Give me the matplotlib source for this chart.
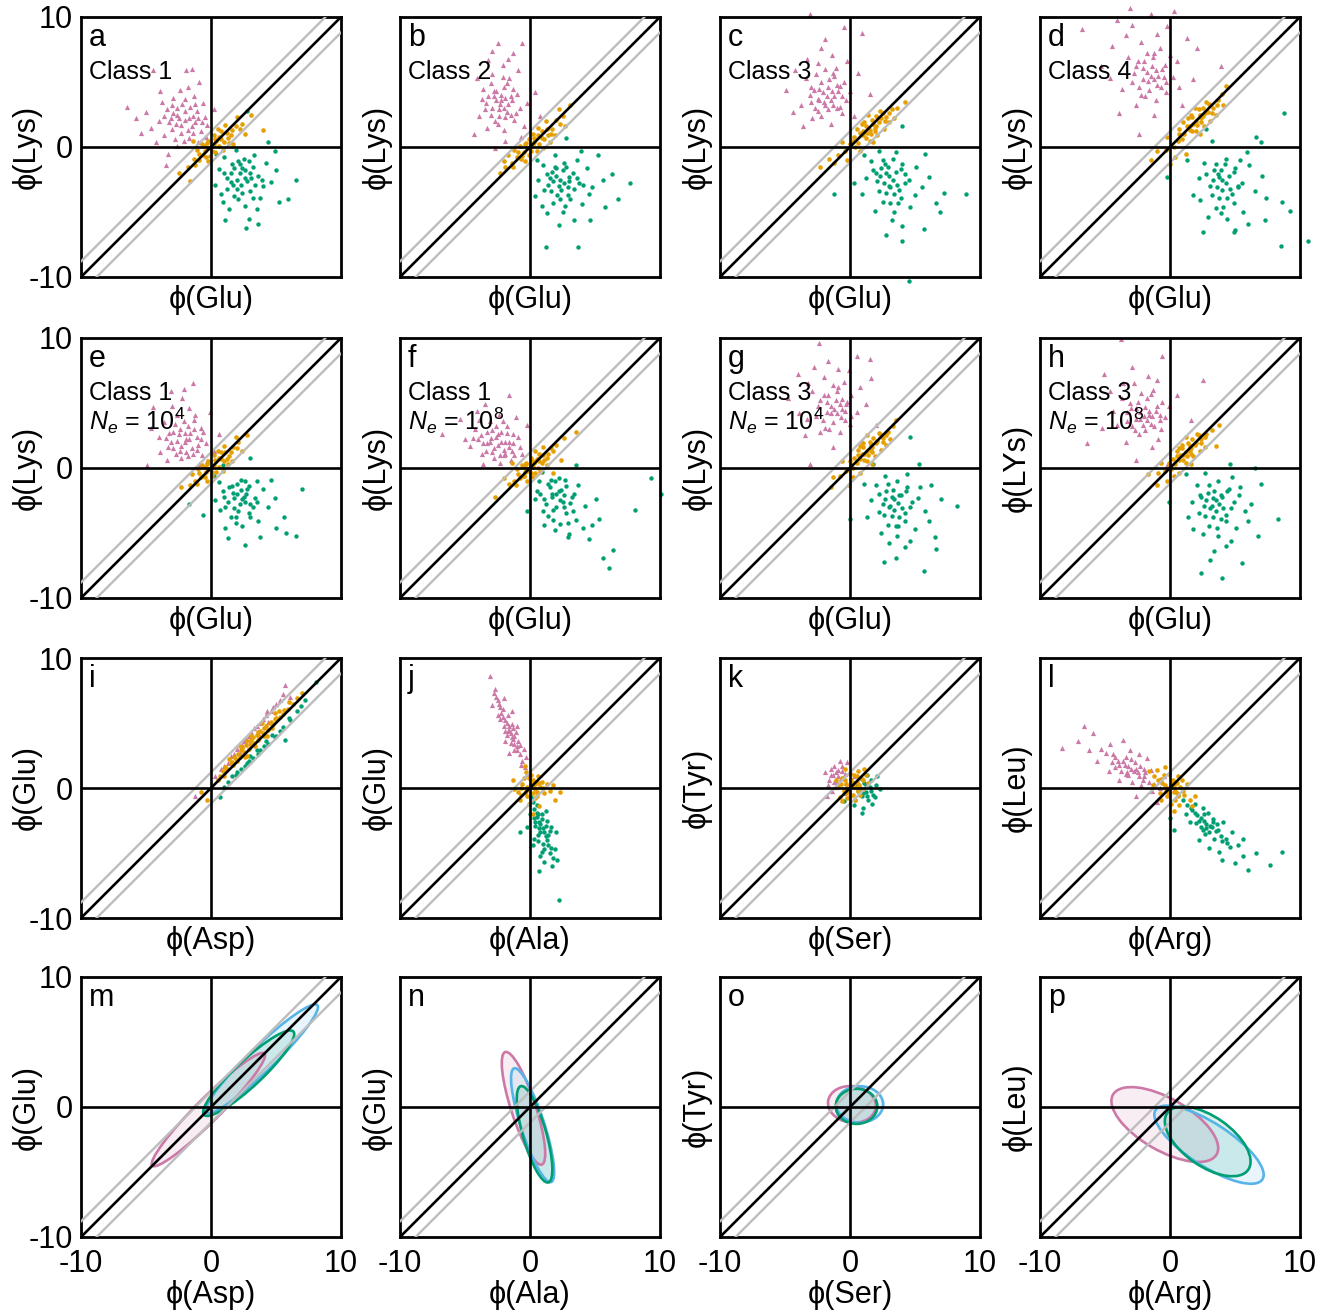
import matplotlib
matplotlib.use("Agg")
import matplotlib.pyplot as plt
from matplotlib.patches import Ellipse

plt.rcParams["font.family"] = ["Liberation Sans", "DejaVu Sans"]
plt.rcParams["mathtext.fontset"] = "custom"
plt.rcParams["mathtext.rm"] = "Liberation Sans"
plt.rcParams["mathtext.it"] = "Liberation Sans:italic"

PINK = "#CC79A7"
GREEN = "#009E73"
ORANGE = "#E69F00"
BLUE = "#56B4E9"

LETTERS = list("abcdefghijklmnop")
XLABELS = ["ϕ(Glu)"] * 8 + ["ϕ(Asp)", "ϕ(Ala)", "ϕ(Ser)", "ϕ(Arg)"] * 2
YLABELS = ["ϕ(Lys)"] * 7 + ["ϕ(LYs)"] + ["ϕ(Glu)", "ϕ(Glu)", "ϕ(Tyr)", "ϕ(Leu)"] * 2
CLASSES = ["Class 1", "Class 2", "Class 3", "Class 4",
           "Class 1", "Class 1", "Class 3", "Class 3"]
NE_LABELS = ["", "", "", "",
             "$N_e$ = 10$^4$", "$N_e$ = 10$^8$", "$N_e$ = 10$^4$", "$N_e$ = 10$^8$"]
TICKS = [-10, 0, 10]
TICK_LABELS = ["-10", "0", "10"]
DIAG_OFFSET = 1.2   # the grey guide lines either side of y = x

# ---- panel a ----
PINK_A = [(-2.0,2.1),(-1.5,1.6),(-2.6,2.5),(-1.1,2.8),(-3.0,1.4),(-2.2,3.3),(-0.8,1.2),(-1.7,0.7),
          (-3.4,2.9),(-2.8,0.6),(-1.3,3.9),(-0.5,2.3),(-4.0,2.0),(-2.4,4.4),(-3.6,0.9),(-1.0,0.4),
          (-4.6,1.5),(-1.9,5.9),(-4.5,5.9),(-6.5,3.1),(-5.0,2.7),(-3.5,-1.4),(-0.6,3.4),(-2.9,3.8),
          (-1.4,2.4),(-2.3,1.1),(-3.8,3.5),(-0.3,1.7),(-1.8,4.6),(-5.4,1.1),(-3.1,2.2),(-2.6,0.1),
          (-0.9,5.0),(-4.2,0.4),(-1.2,1.9),(-2.0,2.8),(-3.3,-0.5),(0.2,2.9),(-5.8,2.2),(-1.6,3.1),
          (-2.7,1.8),(-0.4,0.8),(-3.9,4.3),(-1.5,6.0),
          (-2.3,1.7),(-1.7,2.2),(-2.6,3.0),(-1.4,1.1),(-3.2,1.9),(-2.0,3.7),(-1.0,2.2),(-2.9,2.6),
          (-1.8,1.3),(-2.5,2.2),(-3.6,2.4),(-1.2,3.3),(-0.7,1.9),(-2.1,0.5),(-3.0,3.2)]
GREEN_A = [(2.2,-2.0),(1.6,-1.3),(2.8,-2.6),(1.2,-2.4),(3.2,-1.5),(2.0,-3.2),(1.0,-0.8),(3.6,-2.2),
           (2.5,-0.9),(1.8,-3.8),(3.0,-3.4),(0.6,-1.7),(4.2,-1.2),(2.6,-4.5),(1.4,-4.8),(3.8,-3.9),
           (4.6,-2.7),(0.3,-2.9),(2.9,-5.5),(2.7,-6.2),(3.6,-5.9),(5.2,-4.2),(6.5,-2.5),(5.9,-4.0),
           (4.9,-0.3),(2.8,2.8),(1.9,-0.2),(0.8,-3.6),(3.3,-0.6),(4.0,-3.0),(2.3,-2.9),(1.5,-2.0),
           (3.5,-4.8),(0.4,-0.5),(5.0,-1.8),(1.1,-5.6),(2.1,-1.1),(4.4,0.4),(3.1,-2.4),(0.9,-4.2),
           (1.7,-2.9),(2.4,-1.6),
           (2.0,-2.5),(2.6,-1.8),(1.8,-1.6),(3.0,-2.0),(2.4,-3.5),(1.5,-2.7),(3.4,-2.9),(2.2,-1.3),
           (1.2,-3.2),(2.9,-1.1),(3.9,-2.5),(2.1,-4.0),(1.0,-2.0),(3.2,-3.9),(2.6,-2.4)]
ORANGE_A = [(0.0,0.0),(0.4,0.5),(-0.5,-0.3),(0.8,0.6),(-0.9,-1.0),(1.2,1.1),(-0.3,0.3),(0.3,-0.4),
            (1.5,0.9),(-1.3,-0.9),(0.6,0.1),(-0.7,0.2),(1.9,1.6),(-1.8,-1.5),(0.2,0.9),(0.9,-0.2),
            (-1.1,-0.2),(2.4,1.8),(-2.5,-2.0),(1.4,0.3),(-0.2,-1.1),(2.6,1.0),(4.0,1.3),(3.1,2.5),
            (-1.6,-2.6),(0.5,1.4),(-0.6,-0.6),(1.1,1.7),(1.7,0.2),(-0.1,-0.7),(2.0,2.3),(-1.4,0.5),
            (0.2,0.2),(-0.2,-0.1),(0.6,0.8),(-0.4,-0.8),(1.0,0.4),(-0.9,-0.5),(0.3,0.6),(0.8,1.2),
            (-1.2,-1.4),(1.6,1.3),(0.1,-0.3),(-0.5,0.1),(1.3,0.7),(2.2,1.4),(-0.2,0.5)]

# ---- panel b ----
PINK_B = [(-2.3,3.3),(-1.8,2.7),(-2.8,3.9),(-1.4,3.6),(-3.0,2.5),(-2.0,4.6),(-1.2,2.1),(-3.4,3.4),
          (-2.5,1.8),(-1.6,5.3),(-0.8,3.0),(-3.6,4.5),(-2.9,5.6),(-2.1,6.3),(-1.0,4.1),(-3.9,2.4),
          (-4.3,1.0),(-2.5,8.0),(-0.6,8.0),(-1.3,7.2),(-3.2,6.7),(-0.5,1.6),(-1.9,0.5),(-2.7,-0.1),
          (0.8,2.4),(0.4,4.2),(-4.1,5.3),(-2.4,2.9),(-1.5,3.9),(-3.3,1.5),(-0.9,5.9),(-2.0,1.3),
          (-2.6,4.3),(-1.1,2.6),(-3.7,3.7),(-0.2,3.4),(-1.7,6.8),(-2.9,7.4),(-0.7,0.8),(-2.2,3.6),
          (-1.9,2.3),(-3.0,4.9),
          (-2.0,3.0),(-2.6,3.6),(-1.7,3.3),(-2.9,3.0),(-2.2,4.0),(-1.5,2.5),(-2.8,4.3),(-1.9,3.8),
          (-2.4,2.4),(-3.2,3.9),(-1.3,4.5),(-2.7,2.0),(-1.8,4.9),(-3.5,2.9),(-2.1,5.4)]
GREEN_B = [(2.3,-2.5),(1.7,-1.9),(2.9,-3.1),(1.4,-2.9),(3.3,-2.0),(2.1,-3.7),(1.0,-1.4),(3.8,-2.8),
           (2.6,-1.2),(1.8,-4.3),(3.1,-4.0),(0.6,-2.5),(4.4,-1.6),(2.5,-5.0),(1.3,-5.1),(4.0,-4.4),
           (4.8,-3.1),(0.4,-3.8),(3.4,-5.6),(1.2,-7.7),(3.7,-7.7),(5.8,-4.6),(7.7,-2.8),(6.3,-2.1),
           (5.2,-0.6),(2.8,0.7),(1.9,-0.6),(0.9,-4.5),(3.6,-1.0),(4.5,-3.6),(2.4,-3.3),(1.5,-2.4),
           (2.2,-6.0),(0.5,-1.0),(5.6,-2.5),(4.6,-5.6),(2.0,-1.6),(3.0,-2.6),(2.7,-4.5),(1.1,-3.3),
           (6.8,-4.0),(3.9,-0.3),
           (2.0,-2.2),(2.6,-2.8),(2.2,-3.0),(1.8,-2.6),(3.0,-2.3),(2.5,-1.8),(1.6,-3.4),(3.4,-3.2),
           (2.9,-3.7),(1.3,-2.1),(2.3,-4.0),(3.6,-2.4),(1.9,-1.5),(2.8,-1.5),(4.1,-2.9)]
ORANGE_B = [(0.0,0.0),(0.4,0.6),(-0.5,-0.4),(0.9,0.7),(-1.0,-0.8),(1.3,1.4),(-0.3,0.3),(0.5,-0.3),
            (1.6,1.0),(-1.4,-1.2),(0.7,0.2),(-0.8,0.1),(2.0,2.1),(-1.9,-1.5),(0.2,1.0),(1.0,-0.1),
            (-1.2,-0.2),(2.5,2.4),(-2.3,-2.0),(1.5,0.4),(-0.4,-1.1),(2.7,1.6),(3.1,3.2),(-1.7,-0.6),
            (0.6,1.5),(-0.7,-0.9),(1.2,2.0),(1.9,0.9),(-0.1,-0.6),(2.2,2.9),(-2.0,-1.1),(0.3,0.4),
            (0.2,0.2),(-0.2,-0.1),(0.6,0.9),(-0.6,-0.7),(1.1,0.6),(-0.9,-0.4),(0.3,0.7),(0.9,1.2),
            (-1.3,-1.5),(1.7,1.4),(0.1,-0.3),(-0.4,0.2),(1.4,0.9),(2.3,1.8),(-0.1,0.6)]

# ---- panel c ----
PINK_C = [(-1.8,3.9),(-1.3,3.2),(-2.4,4.5),(-0.9,4.3),(-2.7,3.0),(-1.6,5.2),(-0.6,2.6),(-3.1,4.0),
          (-2.2,2.4),(-1.1,6.1),(-0.3,3.6),(-3.4,5.3),(-2.5,6.5),(-1.4,7.1),(-0.5,5.0),(-3.8,3.2),
          (-4.9,4.4),(0.9,8.8),(-0.5,9.2),(-1.9,8.3),(-3.1,10.2),(-3.6,1.6),(-1.5,1.8),(0.3,2.4),
          (1.5,4.1),(0.6,5.7),(-4.2,5.9),(-2.0,3.5),(-1.0,4.8),(-2.9,2.2),(-0.2,6.6),(-2.6,5.6),
          (-1.7,2.9),(-3.3,6.8),(-0.8,3.1),(-2.2,7.6),(-4.4,2.7),(0.0,4.3),(-1.2,5.5),(-3.0,4.6),
          (-1.9,6.0),(-2.5,3.7),
          (-1.5,3.6),(-2.1,4.2),(-1.2,3.9),(-2.4,3.6),(-1.7,4.6),(-1.0,3.0),(-2.2,5.0),(-1.4,4.3),
          (-2.8,4.4),(-0.8,4.7),(-1.9,3.2),(-2.5,2.8),(-1.3,5.7),(-3.0,3.5),(-0.6,3.9)]
GREEN_C = [(3.0,-2.2),(2.4,-1.6),(3.6,-2.9),(2.1,-2.6),(3.9,-1.7),(2.8,-3.5),(1.6,-1.1),(4.5,-2.5),
           (3.3,-0.9),(2.5,-4.2),(3.9,-3.9),(1.2,-2.4),(5.1,-1.5),(3.4,-5.0),(1.9,-4.9),(4.6,-4.6),
           (5.5,-3.1),(0.9,-3.6),(4.0,-6.1),(4.0,-7.2),(2.8,-6.8),(6.6,-4.3),(8.9,-3.6),(7.2,-3.5),
           (5.8,-0.5),(4.0,1.6),(2.2,-0.3),(-1.2,-3.6),(3.5,-0.4),(5.0,-3.7),(3.1,-3.1),(2.0,-2.0),
           (3.2,-5.6),(1.1,-0.6),(6.1,-2.3),(5.7,-6.3),(2.7,-1.3),(4.2,-2.1),(4.5,-10.3),(0.3,-2.8),
           (6.9,-5.0),(3.7,-4.3),
           (2.8,-2.0),(3.3,-2.5),(2.6,-2.8),(3.5,-1.9),(3.0,-3.0),(2.3,-2.2),(3.8,-3.3),(2.9,-1.5),
           (2.2,-3.4),(4.2,-2.8),(3.4,-3.6),(1.8,-1.8),(3.1,-4.3),(4.0,-1.3),(2.5,-1.0)]
ORANGE_C = [(1.5,1.3),(1.0,1.2),(2.0,1.6),(0.6,0.3),(2.4,2.2),(1.2,0.7),(0.3,0.8),(2.8,2.3),
            (1.7,2.1),(-0.4,-0.3),(3.2,2.9),(0.9,1.8),(2.1,0.9),(-0.9,-0.6),(3.6,3.0),(1.4,2.5),
            (-1.6,-0.9),(4.2,3.5),(2.6,1.4),(0.0,0.2),(-2.3,-1.5),(0.5,1.4),(3.0,1.9),(1.8,0.4),
            (-0.6,0.4),(2.3,2.8),(0.8,-0.3),(-1.2,-1.2),(3.4,2.2),(1.1,1.9),(-0.2,-1.0),(1.9,1.5),
            (1.3,1.1),(1.8,1.8),(1.0,0.9),(2.2,1.9),(1.6,1.0),(0.8,1.1),(2.5,2.6),(1.2,1.6),
            (2.0,2.4),(0.4,0.0),(2.7,2.0),(1.5,0.5),(0.2,0.5),(3.0,2.6),(1.9,1.2)]

# ---- panel d ----
PINK_D = [(-1.5,5.5),(-1.0,4.8),(-2.1,6.1),(-0.6,6.0),(-2.4,4.6),(-1.3,6.9),(-0.3,4.2),(-2.8,5.7),
          (-1.9,3.9),(-0.8,7.6),(0.2,5.4),(-3.2,6.9),(-2.2,8.1),(-1.0,8.7),(0.5,6.6),(-3.7,4.5),
          (-4.5,7.8),(-3.05,10.7),(-1.5,10.2),(0.3,10.5),(-6.8,9.1),(-2.4,1.0),(-1.2,2.5),(0.9,3.2),
          (3.95,6.2),(2.1,7.6),(-4.6,5.3),(-1.7,5.1),(-0.5,5.4),(-2.6,3.2),(1.3,8.4),(-3.4,8.6),
          (-1.1,3.6),(-5.3,6.2),(0.0,7.1),(-2.9,9.4),(-3.9,2.6),(0.7,4.6),(-1.8,7.2),(-2.5,6.6),
          (-0.2,9.3),(-4.1,9.8),(1.8,5.2),
          (-1.2,5.2),(-1.8,5.8),(-0.9,5.5),(-2.1,5.2),(-1.4,6.2),(-0.7,4.6),(-2.0,6.6),(-1.1,5.9),
          (-2.6,6.2),(-0.4,6.3),(-1.6,4.4),(-2.2,4.0),(-1.2,7.2),(-2.9,5.0),(-0.3,5.0)]
GREEN_D = [(4.0,-2.5),(3.4,-1.8),(4.6,-3.2),(3.1,-3.0),(4.9,-1.9),(3.8,-3.9),(2.6,-1.2),(5.5,-2.8),
           (4.3,-0.9),(3.5,-4.7),(4.9,-4.3),(2.2,-2.4),(6.1,-1.4),(4.4,-5.5),(2.9,-5.4),(5.6,-5.0),
           (6.5,-3.4),(1.8,-3.7),(5.0,-6.4),(4.9,-6.5),(8.5,-7.6),(10.65,-7.2),(8.8,2.6),(9.2,-4.9),
           (6.6,0.8),(2.8,1.4),(-0.25,-2.3),(3.2,0.5),(7.4,-3.9),(5.9,-0.4),(3.7,-2.1),(4.2,-1.3),
           (6.0,-5.9),(1.3,-1.0),(7.1,-2.2),(7.3,-5.6),(2.5,-6.5),(5.2,-3.0),(3.9,-5.1),(7.0,0.4),
           (8.6,-4.2),(5.4,-1.0),(2.3,-4.1),
           (3.8,-2.3),(4.3,-2.8),(3.6,-3.1),(4.5,-2.2),(4.0,-3.3),(3.3,-2.5),(4.8,-3.6),(3.9,-1.8),
           (3.2,-3.7),(5.2,-3.1),(4.4,-3.9),(2.8,-2.1),(4.1,-4.6),(5.0,-1.6),(3.5,-1.3)]
ORANGE_D = [(2.0,2.0),(1.5,1.6),(2.5,2.4),(1.1,1.0),(2.9,2.7),(1.7,1.2),(0.7,1.0),(3.3,3.0),
            (2.2,2.9),(0.3,0.0),(3.7,3.6),(1.4,2.2),(2.6,1.6),(-0.3,-0.2),(4.0,4.1),(1.9,3.0),
            (-1.0,-0.3),(4.3,4.7),(3.1,2.0),(0.6,0.5),(-1.5,-1.0),(1.0,1.9),(3.5,2.5),(2.3,1.0),
            (-0.2,0.8),(2.8,3.5),(1.2,-0.5),(0.0,-1.3),(4.1,3.2),(1.6,2.5),(0.4,-0.8),(2.4,2.2),
            (1.8,1.8),(2.3,2.5),(1.5,1.3),(2.7,2.6),(2.1,1.7),(1.3,1.6),(3.0,3.3),(1.7,2.3),
            (2.5,3.0),(0.9,0.6),(3.2,2.6),(2.0,1.2),(0.7,1.4),(3.6,3.2),(2.4,1.9)]

# ---- panel e ----
PINK_E = [(-2.0,2.0),(-1.5,1.5),(-2.5,2.6),(-1.1,2.4),(-2.9,1.5),(-1.8,3.2),(-0.7,1.0),(-3.2,2.7),
          (-2.3,0.8),(-1.3,3.7),(-0.4,1.9),(-3.6,3.5),(-2.6,4.1),(-1.7,4.6),(-0.8,3.1),(-3.9,1.2),
          (-4.9,0.2),(-1.4,6.5),(-3.1,5.9),(-4.5,4.7),(-0.1,4.3),(0.6,2.6),(-2.2,5.4),(-1.9,1.2),
          (-1.0,1.8),(-2.8,3.4),(-0.3,0.5),(-3.4,0.6),(-1.6,2.7),(-2.4,3.0),(-0.6,2.8),(-4.0,2.4),
          (-1.2,4.1),(-2.7,1.1),(-4.6,3.1),(0.2,1.3),(-3.0,4.8),(-1.9,2.2),(-0.9,0.3),(-2.1,6.1),
          (-2.3,1.7),(-1.7,2.2),(-2.6,2.1),(-1.4,1.1),(-3.1,2.0),(-2.0,2.7),(-1.1,1.4),(-2.9,2.8),
          (-1.8,0.9),(-2.4,1.3),(-3.5,2.3),(-1.3,3.0),(-0.8,2.2),(-2.1,3.6),(-3.3,1.6)]
GREEN_E = [(2.0,-2.0),(1.4,-1.5),(2.6,-2.6),(1.0,-2.2),(2.9,-1.4),(1.8,-3.1),(0.6,-1.1),(3.4,-2.3),
           (2.3,-0.9),(1.5,-3.8),(2.9,-3.5),(0.3,-2.5),(4.0,-1.6),(2.4,-4.5),(1.1,-4.6),(3.6,-4.1),
           (4.4,-3.0),(-1.7,-2.8),(2.6,-5.9),(6.5,-5.2),(7.0,-1.6),(5.0,-4.6),(3.0,0.8),(0.9,0.2),
           (-0.6,-3.6),(5.6,-3.8),(4.6,-0.9),(2.2,-2.8),(1.7,-1.9),(3.2,-3.0),(0.2,-0.6),(3.8,-5.3),
           (1.3,-5.4),(4.9,-2.3),(2.8,-1.6),(0.7,-3.2),(5.8,-5.0),(3.5,-1.0),(1.9,-4.2),(2.5,-2.2),
           (1.8,-2.3),(2.3,-1.7),(1.6,-1.4),(2.7,-2.0),(2.1,-3.3),(1.3,-2.6),(3.0,-2.8),(2.0,-1.2),
           (1.1,-3.0),(2.6,-1.0),(3.5,-2.6),(1.9,-3.8),(0.9,-1.8),(3.0,-3.8),(2.4,-2.4)]
ORANGE_E = [(0.0,0.0),(0.4,0.5),(-0.4,-0.3),(0.8,0.7),(-0.8,-0.7),(1.1,1.2),(-0.3,0.3),(0.4,-0.3),
            (1.4,0.9),(-1.2,-1.0),(0.6,0.1),(-0.7,0.2),(1.7,1.6),(-1.6,-1.3),(0.2,1.0),(0.9,-0.2),
            (-1.0,-0.1),(2.1,2.0),(-2.3,-1.5),(1.3,0.3),(-0.3,-1.0),(2.4,1.3),(2.8,2.5),(-1.5,-0.5),
            (0.5,1.3),(-0.6,-0.6),(1.0,1.7),(1.6,0.5),(0.1,-0.6),(1.9,2.4),
            (0.2,0.2),(-0.2,-0.1),(0.6,0.8),(-0.5,-0.7),(1.0,0.5),(-0.9,-0.4),(0.3,0.6),(0.8,1.2),
            (-1.1,-1.2),(1.5,1.2),(0.1,-0.3),(-0.5,0.1),(1.2,0.7),(2.0,1.5),(-0.2,0.5)]

# ---- panel f ----
PINK_F = [(-2.5,1.8),(-2.0,1.4),(-3.0,2.3),(-1.6,2.0),(-3.4,1.3),(-2.2,2.8),(-1.2,1.0),(-3.8,2.5),
          (-2.8,0.8),(-1.8,3.2),(-0.8,1.6),(-4.2,3.0),(-3.1,3.6),(-2.4,4.1),(-1.3,2.6),(-4.6,1.7),
          (-6.8,2.6),(-1.6,5.6),(-4.1,4.4),(-5.4,3.8),(-0.2,3.3),(0.6,0.7),(-0.4,0.2),(-3.6,0.3),
          (-1.5,0.6),(-2.6,2.4),(-1.9,2.0),(-3.3,1.9),(-0.9,2.4),(-2.1,3.6),(-5.0,2.2),(-1.4,1.3),
          (-3.9,3.7),(-0.6,1.1),(-2.9,2.9),(-2.3,0.4),(-4.4,2.3),(-1.1,3.9),(-3.5,4.9),(-2.0,1.0),
          (-2.8,1.5),(-2.2,2.0),(-3.1,2.0),(-1.9,1.1),(-3.6,1.9),(-2.5,2.6),(-1.6,1.6),(-3.3,2.8),
          (-2.3,1.0),(-2.9,1.2),(-4.0,2.2),(-1.8,2.7),(-1.3,1.9),(-2.6,3.2),(-3.7,1.1)]
GREEN_F = [(2.0,-2.0),(1.5,-1.5),(2.5,-2.6),(1.1,-2.4),(2.8,-1.4),(1.8,-3.2),(0.7,-1.0),(3.2,-2.2),
           (2.2,-0.8),(1.4,-3.7),(2.8,-3.5),(0.4,-2.4),(3.7,-1.3),(2.3,-4.3),(1.1,-4.4),(3.5,-4.0),
           (4.2,-2.9),(-0.2,-3.3),(2.9,-5.3),(6.1,-7.7),(5.6,-6.9),(6.4,-6.3),(8.1,-3.2),(10.1,-2.0),
           (9.3,-0.8),(5.3,-3.9),(3.5,0.2),(4.1,-4.6),(1.7,-2.0),(2.6,-3.0),(0.9,-0.3),(4.8,-4.4),
           (3.0,-5.1),(1.9,-4.8),(5.1,-2.4),(4.5,-5.5),(2.4,-1.7),(3.3,-3.3),(0.5,-1.8),(1.6,-0.9),
           (1.7,-2.2),(2.2,-1.8),(1.4,-1.2),(2.6,-2.1),(2.0,-3.0),(1.2,-2.8),(3.1,-2.7),(1.9,-1.0),
           (1.0,-3.3),(2.7,-0.9),(3.4,-2.0),(1.8,-4.0),(0.8,-2.0),(2.9,-4.2),(2.3,-2.5)]
ORANGE_F = [(0.0,0.0),(0.3,0.4),(-0.4,-0.3),(0.7,0.5),(-0.8,-0.8),(1.0,1.0),(-0.3,0.3),(0.4,-0.4),
            (1.3,0.8),(-1.2,-1.0),(0.6,0.0),(-0.6,0.2),(1.6,1.5),(-1.6,-1.2),(0.1,0.8),(0.8,-0.3),
            (-1.0,-0.1),(2.0,1.8),(-2.7,-2.2),(1.3,0.2),(-0.2,-1.0),(2.4,0.6),(3.5,2.8),(-2.0,-0.8),
            (0.4,1.3),(-0.5,-0.6),(1.0,1.6),(1.8,-0.4),(0.2,-0.7),(2.6,2.3),(-1.4,0.4),
            (0.2,0.1),(-0.2,-0.2),(0.5,0.7),(-0.5,-0.6),(0.9,0.4),(-0.9,-0.5),(0.2,0.5),(0.7,1.1),
            (-1.1,-1.3),(1.4,1.1),(0.1,-0.4),(-0.4,0.0),(1.1,0.6),(1.8,1.3),(-0.3,0.4)]

# ---- panel g ----
PINK_G = [(-1.2,4.5),(-0.7,3.9),(-1.8,5.1),(-0.3,4.9),(-2.1,3.7),(-1.0,5.9),(0.0,3.4),(-2.5,4.8),
          (-1.6,3.0),(-0.5,6.6),(0.5,4.3),(-2.9,5.9),(-2.0,7.0),(-0.9,7.6),(0.1,5.6),(-3.3,3.8),
          (-4.8,5.4),(-2.4,9.6),(0.5,8.6),(-3.05,0.3),(-1.3,1.6),(0.9,2.1),(2.0,3.3),(1.6,6.9),
          (-4.0,7.2),(-1.5,4.2),(-0.4,4.4),(-2.3,2.8),(0.8,6.2),(-2.8,7.8),(-0.8,2.8),(-3.9,4.2),
          (-0.1,7.5),(-1.7,8.2),(-3.5,2.5),(1.2,4.9),(-1.3,6.4),(-2.0,5.6),(-0.6,5.3),(-3.2,6.5),
          (1.5,8.4),
          (-1.0,4.2),(-1.5,4.8),(-0.6,4.5),(-1.8,4.3),(-1.1,5.2),(-0.4,3.7),(-1.7,5.6),(-0.8,4.9),
          (-2.3,5.2),(-0.2,5.1),(-1.3,3.5),(-1.9,3.1),(-0.9,6.2),(-2.6,4.0),(0.1,4.0)]
GREEN_G = [(3.4,-2.4),(2.8,-1.8),(4.0,-3.1),(2.5,-2.8),(4.3,-1.8),(3.2,-3.7),(2.0,-1.3),(4.8,-2.6),
           (3.6,-1.0),(2.9,-4.4),(4.2,-4.1),(1.6,-2.5),(5.4,-1.5),(3.6,-5.2),(2.4,-5.0),(5.0,-4.7),
           (5.8,-3.3),(1.3,-3.8),(4.2,-6.1),(2.6,-7.2),(5.7,-7.9),(3.5,-6.9),(6.5,-5.3),(8.2,-2.9),
           (7.0,-2.4),(4.6,2.4),(5.3,0.3),(0.0,-3.9),(1.8,0.3),(6.2,-1.3),(3.1,-2.9),(3.8,-2.1),
           (4.6,-5.6),(1.1,-1.2),(6.1,-4.1),(2.2,-3.4),(4.4,-0.5),(3.0,-5.8),(5.2,-2.3),(6.6,-6.2),
           (2.7,-0.6),(3.7,-4.5),
           (3.2,-2.2),(3.7,-2.7),(3.0,-3.0),(3.9,-2.1),(3.4,-3.2),(2.7,-2.4),(4.2,-3.5),(3.3,-1.7),
           (2.6,-3.6),(4.6,-3.0),(3.8,-3.8),(2.2,-2.0),(3.5,-4.5),(4.4,-1.5),(2.9,-1.2)]
ORANGE_G = [(1.3,1.3),(0.9,1.1),(1.7,1.6),(0.5,0.4),(2.1,2.1),(1.1,0.6),(0.3,0.8),(2.5,2.3),
            (1.5,2.0),(-0.3,-0.2),(2.9,2.8),(0.8,1.7),(1.9,0.9),(-0.8,-0.6),(3.3,3.2),(1.3,2.5),
            (-1.3,-0.7),(3.5,3.7),(2.4,1.4),(0.1,0.2),(-1.5,-1.5),(0.6,1.4),(2.8,1.8),(1.7,0.3),
            (-0.6,0.5),(2.2,2.7),(0.8,-0.4),(-0.1,-1.3),(3.1,2.2),(1.0,1.9),(0.2,-0.7),(1.6,1.4),
            (1.1,1.1),(1.6,1.8),(0.8,0.7),(2.0,1.9),(1.4,1.0),(0.6,1.0),(2.3,2.6),(1.0,1.6),
            (1.8,2.3),(0.2,0.0),(2.5,2.0),(1.3,0.5),(0.0,0.5),(2.8,2.5),(1.7,1.2)]

# ---- panel h ----
PINK_H = [(-2.0,4.0),(-1.5,3.4),(-2.6,4.6),(-1.1,4.4),(-2.9,3.2),(-1.8,5.4),(-0.7,3.0),(-3.3,4.3),
          (-2.4,2.6),(-1.3,6.0),(-0.4,3.9),(-3.7,5.4),(-2.8,6.5),(-1.7,7.1),(-0.6,5.1),(-4.1,3.3),
          (-6.4,1.9),(-3.8,9.9),(-5.1,7.2),(-4.6,5.9),(-0.6,8.6),(2.5,6.8),(1.6,3.7),(-0.2,0.2),
          (-2.6,0.6),(-5.2,3.1),(-1.6,4.1),(-2.3,3.8),(-0.9,2.2),(-3.1,5.0),(-1.0,6.8),(-3.4,2.0),
          (-0.1,4.8),(-2.2,5.8),(-4.4,4.4),(-1.4,1.6),(-2.9,7.8),(0.5,5.6),(-1.9,2.9),(-3.6,6.5),
          (-0.8,3.7),
          (-1.8,3.7),(-2.3,4.3),(-1.4,4.0),(-2.6,3.8),(-1.9,4.7),(-1.2,3.2),(-2.5,5.1),(-1.6,4.4),
          (-3.0,4.6),(-1.0,4.8),(-2.1,3.3),(-2.7,2.9),(-1.5,5.7),(-3.3,3.6),(-0.8,4.1)]
GREEN_H = [(3.5,-2.5),(2.9,-1.9),(4.1,-3.1),(2.6,-2.9),(4.4,-1.8),(3.3,-3.8),(2.1,-1.3),(4.9,-2.6),
           (3.7,-1.0),(3.0,-4.5),(4.3,-4.1),(1.7,-2.6),(5.4,-1.5),(3.7,-5.2),(2.5,-5.1),(5.1,-4.6),
           (5.8,-3.3),(1.4,-3.8),(4.3,-6.0),(4.0,-8.5),(2.35,-8.1),(3.1,-7.1),(5.5,-7.3),(6.8,-5.2),
           (8.3,-3.9),(7.0,-1.2),(6.5,0.0),(4.6,0.3),(-0.1,-2.6),(1.2,-0.5),(6.2,-2.8),(3.2,-2.9),
           (3.9,-2.1),(4.7,-5.6),(2.2,-3.5),(6.0,-4.1),(2.7,-0.4),(4.8,-0.7),(3.4,-6.4),(1.8,-4.7),
           (5.3,-2.1),(2.4,-2.2),
           (3.3,-2.3),(3.8,-2.8),(3.1,-3.1),(4.0,-2.2),(3.5,-3.3),(2.8,-2.5),(4.3,-3.6),(3.4,-1.8),
           (2.7,-3.7),(4.7,-3.1),(3.9,-3.9),(2.3,-2.1),(3.6,-4.6),(4.5,-1.6),(3.0,-1.3)]
ORANGE_H = [(1.2,1.2),(0.8,1.0),(1.6,1.5),(0.4,0.3),(2.0,1.9),(1.0,0.6),(0.2,0.7),(2.4,2.2),
            (1.4,1.9),(-0.4,-0.2),(2.8,2.6),(0.7,1.5),(1.8,0.9),(-0.9,-0.4),(3.2,2.9),(1.2,2.4),
            (-1.7,-0.5),(3.8,3.3),(2.3,1.3),(0.0,0.2),(-1.0,-1.3),(0.5,1.3),(2.7,1.6),(1.6,0.3),
            (-0.7,0.4),(2.1,2.6),(0.7,-0.4),(-0.2,-1.0),(3.5,1.7),(0.9,1.8),(0.3,-0.6),(1.5,1.3),
            (1.0,1.0),(1.5,1.7),(0.7,0.6),(1.9,1.8),(1.3,0.9),(0.5,0.9),(2.2,2.5),(0.9,1.5),
            (1.7,2.2),(0.1,-0.1),(2.4,1.9),(1.2,0.4),(-0.1,0.4),(2.7,2.4),(1.6,1.1)]

# ---- panel i ----
PINK_I = [(0.3,0.9),(1.0,1.7),(1.5,2.5),(2.0,3.0),(2.5,3.6),(2.9,4.0),(3.3,4.6),(3.8,5.0),
          (4.2,5.6),(4.6,5.9),(5.0,6.5),(5.7,7.9),(5.3,6.8),(3.0,3.5),(2.2,2.7),(1.3,1.9),
          (3.6,4.2),(4.4,5.1),(-1.2,-0.6),(6.1,7.0),
          (1.8,2.6),(2.7,3.8),(3.5,4.8),(4.0,5.3),(4.8,6.2),(5.5,7.2),(0.8,1.5),(2.4,3.3),
          (3.1,4.3),(4.3,5.9)]
GREEN_I = [(0.7,-0.7),(1.3,0.5),(2.0,1.2),(2.6,1.7),(3.2,2.3),(3.8,2.9),(4.4,3.4),(5.0,4.0),
           (5.7,3.7),(5.5,4.7),(6.1,5.2),(6.6,5.9),(8.05,8.15),(7.2,6.8),(1.6,0.9),(3.5,2.9),
           (4.7,4.1),(2.9,2.1),(4.1,3.2),(6.9,6.3),
           (1.0,0.1),(1.9,1.0),(2.8,1.9),(3.6,2.6),(4.2,3.6),(4.9,3.9),(5.3,4.4),(6.0,5.4),
           (2.3,1.5),(3.0,2.5)]
ORANGE_I = [(0.5,0.6),(0.9,1.3),(1.2,1.5),(1.5,1.9),(1.8,2.4),(2.0,2.1),(2.3,2.9),(2.5,2.8),
            (2.7,3.3),(2.9,3.0),(3.1,3.7),(3.3,3.5),(3.5,4.1),(3.6,3.7),(3.8,4.4),(4.0,4.2),
            (4.2,4.8),(4.4,4.5),(4.6,5.1),(4.8,4.9),(5.0,5.4),(5.3,5.5),(5.6,6.0),(5.9,6.1),
            (6.3,6.5),(7.0,7.3),(1.0,0.9),(1.7,1.8),(2.6,2.4),(3.4,3.2),(4.3,4.0),(1.4,2.2),
            (2.2,3.2),(3.0,4.1),(3.9,5.0),(-0.8,-0.3),(-0.3,-0.9),(4.9,5.8),(2.8,2.5),(3.7,3.9),
            (0.7,0.9),(1.1,1.6),(1.6,2.0),(2.1,2.6),(2.4,3.1),(2.8,3.6),(3.2,3.9),(3.6,4.3),
            (4.1,4.6),(4.5,5.0),(4.9,5.3),(5.2,5.9),(5.5,5.7),(6.0,6.6),(6.6,6.9),(1.9,2.2),
            (3.1,3.3),(4.7,4.6),(2.2,2.4),(4.1,4.0)]

# ---- panel j ----
PINK_J = [(-1.6,4.5),(-1.3,3.8),(-1.9,5.2),(-1.0,3.2),(-2.2,5.8),(-1.4,4.9),(-1.8,4.1),(-0.8,2.6),
          (-2.4,6.5),(-1.1,4.3),(-2.0,4.8),(-0.6,2.1),(-2.6,7.0),(-1.5,3.5),(-2.1,6.1),(-0.4,1.6),
          (-2.7,7.6),(-3.1,8.6),(-1.7,5.6),(-0.9,3.6),(-2.3,5.3),(-1.2,2.9),(-0.2,1.1),(-2.9,6.4),
          (-1.0,4.8),(-1.9,3.6),(-0.5,3.0),(-2.5,5.6),(-1.4,5.9),(-0.7,1.8),(-2.8,7.3),(-1.6,2.7),
          (-0.3,2.4),(-2.0,6.9),(-1.2,4.0),(-1.7,4.4),
          (-1.5,4.2),(-1.8,5.0),(-1.2,3.4),(-2.1,5.5),(-1.6,4.8),(-1.0,2.9),(-1.9,4.4),(-2.3,6.2),
          (-1.3,4.6),(-0.8,3.3),(-2.5,6.8),(-1.4,3.9)]
GREEN_J = [(0.8,-2.8),(0.5,-2.2),(1.1,-3.4),(0.3,-1.6),(1.3,-4.0),(0.7,-3.1),(0.9,-2.4),(0.2,-1.1),
           (1.6,-4.6),(0.6,-3.6),(1.2,-2.9),(0.1,-0.7),(1.8,-5.4),(0.4,-2.6),(1.4,-3.6),(1.0,-4.3),
           (2.0,-3.4),(-0.75,-3.4),(1.7,-6.0),(0.7,-6.4),(2.2,-8.6),(1.5,-5.0),(0.0,-2.0),(1.9,-4.7),
           (0.8,-5.2),(0.3,-3.9),(1.2,-1.8),(0.9,-4.9),(0.5,-1.3),(1.6,-3.0),(0.2,-4.4),(1.1,-5.7),
           (2.1,-5.5),(0.6,-2.0),(1.3,-2.5),(-0.2,-3.0),
           (0.7,-2.6),(1.0,-3.1),(0.5,-1.9),(1.2,-3.7),(0.8,-3.4),(0.4,-2.9),(1.4,-4.4),(0.9,-2.0),
           (1.1,-4.7),(0.6,-4.1),(1.5,-3.3),(0.3,-2.3)]
ORANGE_J = [(0.0,0.0),(0.3,0.2),(-0.3,-0.2),(0.5,-0.3),(-0.6,0.3),(0.2,0.6),(-0.2,-0.6),(0.8,0.1),
            (-0.9,-0.3),(0.4,-0.8),(-0.5,0.8),(1.1,-0.4),(-1.2,-0.1),(0.1,1.0),(0.9,0.5),(-0.8,-0.9),
            (1.5,-0.2),(2.3,-0.3),(1.9,-0.9),(-0.4,1.7),(0.2,-2.0),(-1.3,0.6),(0.6,0.9),(1.3,0.3),
            (-0.1,-1.2),(0.7,-1.4),(-0.7,-0.5),(1.8,0.2),(-0.3,1.2),(0.5,0.4),
            (0.1,0.3),(-0.2,0.1),(0.4,-0.1),(-0.4,-0.4),(0.7,0.4),(0.2,-0.4),(-0.7,0.0),(1.0,0.0),
            (-0.1,0.8),(0.5,-0.6)]

# ---- panel k ----
PINK_K = [(-0.7,0.8),(-1.0,0.5),(-0.4,1.1),(-1.3,1.0),(-0.9,1.4),(-1.6,0.6),(-0.3,0.4),(-1.1,0.1),
          (-1.9,1.2),(-0.6,1.7),(-1.4,-0.2),(-0.8,2.1),(-1.7,0.2),(0.0,1.3),(-1.2,1.7),(-0.5,-0.4),
          (-1.5,1.5),(0.3,0.9),(-1.8,-0.6),(-0.2,2.0),
          (-0.9,0.9),(-1.2,0.5),(-0.6,1.3),(-1.5,1.0),(-0.8,0.4),(-1.1,1.2)]
GREEN_K = [(1.2,-0.3),(0.9,-0.6),(1.5,0.1),(0.6,-0.2),(1.8,-0.5),(1.1,0.4),(1.4,-0.9),(0.4,-0.9),
           (2.0,0.2),(0.8,0.8),(1.7,-1.2),(2.3,-0.1),(0.3,-1.3),(1.3,1.0),(1.0,-1.5),(2.1,0.9),
           (-0.5,-1.0),(0.9,-1.9),(1.6,0.6),(0.5,0.3),
           (1.0,-0.4),(1.3,-0.6),(0.8,-0.1),(1.6,-0.2),(1.2,0.2),(1.9,-0.7)]
ORANGE_K = [(0.0,0.0),(0.3,0.4),(-0.3,0.3),(0.5,0.9),(-0.5,-0.2),(0.7,0.2),(0.2,-0.5),(-0.6,0.8),
            (0.9,0.7),(0.0,1.1),(-0.9,0.1),(1.0,-0.1),(-0.2,-0.8),(0.6,1.3),(-0.8,-0.7),(1.2,1.0),
            (0.4,-0.9),(-0.4,1.5),(1.4,0.4),(-1.1,0.6),(0.8,-0.5),(0.1,0.6),(-0.1,-0.3),(0.4,0.1),
            (1.1,1.5),(-0.6,-1.0),
            (0.2,0.2),(-0.2,0.0),(0.5,0.5),(-0.4,0.6),(0.8,0.0),(0.0,-0.6),(0.3,1.0),(-0.7,0.3),
            (1.0,0.6),(-0.3,-0.4),(0.6,-0.2),(0.1,0.4)]

# ---- panel l ----
PINK_L = [(-3.0,1.5),(-2.5,1.2),(-3.5,1.8),(-2.0,0.9),(-4.0,2.1),(-3.2,1.0),(-2.7,2.0),(-1.6,0.5),
          (-4.4,2.6),(-3.8,1.3),(-2.3,1.7),(-1.2,0.3),(-4.9,2.7),(-3.4,2.4),(-2.0,1.5),(-0.8,0.0),
          (-5.3,3.0),(-6.6,4.75),(-8.3,3.1),(-7.1,3.6),(-5.9,4.2),(-4.6,3.4),(-3.9,0.6),(-2.6,-0.6),
          (-1.0,-1.1),(0.4,0.5),(-1.5,1.4),(-4.2,1.6),(-3.1,2.9),(-5.6,2.1),(-2.2,0.2),(-1.8,2.3),
          (-3.6,3.7),(-0.5,0.9),(-4.7,1.3),(-6.2,2.9),(-2.9,0.5),(-1.4,-0.2),(-3.3,1.2),(-2.4,2.6),
          (-3.2,1.7),(-2.8,1.3),(-3.6,2.1),(-2.4,0.9),(-4.2,2.4),(-3.0,2.2),(-2.6,1.5),(-1.9,1.2),
          (-3.9,1.8),(-3.4,1.1),(-2.1,0.6),(-4.5,2.0)]
GREEN_L = [(2.6,-2.5),(2.1,-2.1),(3.1,-2.9),(1.7,-1.7),(3.5,-3.3),(2.4,-3.0),(2.9,-1.9),(1.3,-1.3),
           (3.9,-3.7),(2.0,-2.7),(3.3,-2.4),(1.0,-0.9),(4.3,-3.9),(2.7,-3.5),(3.6,-2.8),(0.6,-0.5),
           (4.6,-4.5),(5.2,-4.4),(4.8,-3.4),(6.0,-6.3),(7.7,-5.9),(8.6,-4.9),(6.6,-5.0),(5.6,-5.2),
           (0.0,-2.3),(0.3,-3.2),(1.5,-2.6),(2.2,-4.0),(3.0,-4.6),(4.1,-2.6),(1.9,-1.2),(3.8,-4.9),
           (5.0,-5.8),(2.5,-1.5),(4.4,-4.2),(1.2,-2.0),(3.4,-3.9),(5.6,-3.9),(2.8,-3.1),(4.0,-5.5),
           (2.4,-2.3),(2.8,-2.8),(2.2,-2.5),(3.2,-3.0),(2.6,-2.0),(3.0,-3.4),(1.9,-1.9),(3.7,-3.2),
           (2.5,-3.2),(3.3,-2.6),(4.0,-4.1),(1.6,-1.5)]
ORANGE_L = [(0.0,0.0),(0.3,0.2),(-0.3,-0.2),(0.5,-0.4),(-0.6,0.4),(0.2,0.6),(-0.2,-0.6),(0.8,0.1),
            (-0.9,0.6),(0.4,-0.9),(-0.5,1.0),(1.1,-0.5),(-1.2,0.9),(0.1,-1.2),(0.9,0.6),(-0.8,-0.4),
            (1.5,-0.9),(1.9,-0.6),(-1.65,1.3),(-0.4,1.6),(0.3,-1.75),(-1.3,0.2),(0.6,0.9),(1.3,0.3),
            (-0.1,1.1),(0.7,-1.3),(-0.7,-0.9),(1.7,-1.4),(-1.0,1.4),(0.5,0.4),
            (0.1,0.2),(-0.2,0.0),(0.4,-0.2),(-0.4,0.2),(0.6,-0.6),(0.2,0.4),(-0.7,0.7),(1.0,-0.2),
            (-0.1,-0.4),(0.3,-0.3)]

# ---- ellipses m-p: (centre x, centre y, semi-major, semi-minor, angle deg) ----
ELLIPSE_COLORS = [PINK, BLUE, GREEN]
ELL_M = [(-0.2, -0.2, 6.1, 0.9, 45), (3.9, 3.7, 5.95, 0.95, 44), (2.9, 2.6, 4.7, 1.0, 43)]
ELL_N = [(-0.5, -0.1, 4.55, 0.95, 108), (0.2, -1.4, 4.6, 0.9, 108), (0.35, -2.1, 3.85, 0.9, 106)]
ELL_O = [(0.15, 0.2, 1.85, 1.4, -8), (0.75, 0.2, 1.8, 1.4, 0), (0.5, 0.05, 1.6, 1.35, 0)]
ELL_P = [(-0.4, -1.35, 4.6, 2.0, -30), (3.0, -2.9, 4.9, 1.65, -33), (2.9, -2.65, 3.8, 1.9, -35)]

SCATTERS = [
    (PINK_A, GREEN_A, ORANGE_A), (PINK_B, GREEN_B, ORANGE_B),
    (PINK_C, GREEN_C, ORANGE_C), (PINK_D, GREEN_D, ORANGE_D),
    (PINK_E, GREEN_E, ORANGE_E), (PINK_F, GREEN_F, ORANGE_F),
    (PINK_G, GREEN_G, ORANGE_G), (PINK_H, GREEN_H, ORANGE_H),
    (PINK_I, GREEN_I, ORANGE_I), (PINK_J, GREEN_J, ORANGE_J),
    (PINK_K, GREEN_K, ORANGE_K), (PINK_L, GREEN_L, ORANGE_L),
]
ELLIPSES = [ELL_M, ELL_N, ELL_O, ELL_P]


def scatter(ax, pts, color, marker, size):
    xs = [p[0] for p in pts]
    ys = [p[1] for p in pts]
    ax.scatter(xs, ys, s=size, c=color, marker=marker, linewidths=0,
               clip_on=False, zorder=2)


W, H = 1331, 1314
fig = plt.figure(figsize=(W / 100, H / 100), dpi=100)
lefts = [81, 400, 720, 1040]
tops = [17, 338, 658, 977]
side = 260

for idx in range(16):
    r, c = divmod(idx, 4)
    ax = fig.add_axes([lefts[c] / W, 1 - (tops[r] + side) / H, side / W, side / H])
    ax.set_xlim(-10, 10)
    ax.set_ylim(-10, 10)
    for sp in ax.spines.values():
        sp.set_linewidth(2.0)

    if r < 3:
        pink, green, orange = SCATTERS[idx]
        scatter(ax, pink, PINK, "^", 14)
        scatter(ax, green, GREEN, "o", 10)
        scatter(ax, orange, ORANGE, "o", 11)
    else:
        for (cx, cy, a, b, ang), col in zip(ELLIPSES[c], ELLIPSE_COLORS):
            ax.add_patch(Ellipse((cx, cy), 2 * a, 2 * b, angle=ang, facecolor=col,
                                 alpha=0.13, edgecolor="none", zorder=2))
            ax.add_patch(Ellipse((cx, cy), 2 * a, 2 * b, angle=ang, facecolor="none",
                                 edgecolor=col, lw=1.9, zorder=3))

    # guide lines
    ax.plot([-11, 11], [-11 + DIAG_OFFSET, 11 + DIAG_OFFSET], color="#bdbdbd", lw=1.7, zorder=4)
    ax.plot([-11, 11], [-11 - DIAG_OFFSET, 11 - DIAG_OFFSET], color="#bdbdbd", lw=1.7, zorder=4)
    ax.plot([-10, 10], [-10, 10], color="black", lw=1.9, zorder=5)
    ax.axhline(0, color="black", lw=1.9, zorder=5)
    ax.axvline(0, color="black", lw=1.9, zorder=5)

    ax.set_xticks(TICKS)
    ax.set_yticks(TICKS)
    ax.tick_params(length=0, labelsize=22)
    ax.tick_params(axis="y", pad=6)
    ax.tick_params(axis="x", pad=9 if r == 3 else 6)
    if r == 3:
        ax.set_xticklabels(TICK_LABELS)
    else:
        ax.set_xticklabels([])
    if c == 0:
        ax.set_yticklabels(TICK_LABELS)
    else:
        ax.set_yticklabels([])

    ax.set_xlabel(XLABELS[idx], fontsize=22, labelpad=0)
    ax.set_ylabel(YLABELS[idx], fontsize=22)
    ax.yaxis.set_label_coords(-0.15 if c == 0 else -0.03, 0.5)

    ax.text(0.03, 0.92, LETTERS[idx], transform=ax.transAxes, fontsize=22,
            ha="left", va="center", zorder=6)
    if idx < 8:
        ax.text(0.03, 0.79, CLASSES[idx], transform=ax.transAxes, fontsize=18,
                ha="left", va="center", zorder=6)
        if NE_LABELS[idx]:
            ax.text(0.03, 0.68, NE_LABELS[idx], transform=ax.transAxes, fontsize=18,
                    ha="left", va="center", zorder=6)

fig.savefig("out.png", dpi=100)
